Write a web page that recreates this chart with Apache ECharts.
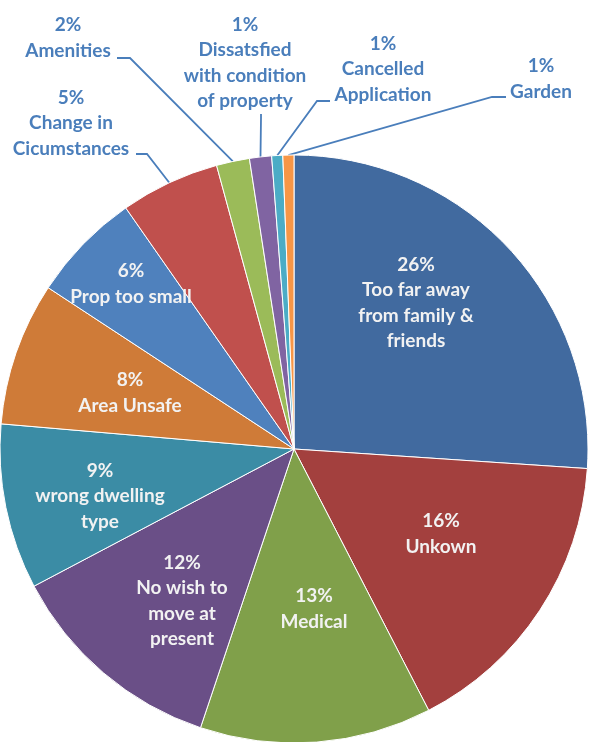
<!DOCTYPE html>
<html>
<head>
<meta charset="utf-8">
<script src="https://cdn.jsdelivr.net/npm/echarts@6/dist/echarts.min.js"></script>
<style>
    html, body { margin: 0; padding: 0; background: #fff; }
    #chart { width: 589px; height: 742px; }
</style>
</head>
<body>
<div id="chart"></div>
<script>
// 分类（标签里的换行照原图）
const categories = [
    'Too far away\nfrom family &\nfriends',
    'Unkown',
    'Medical',
    'No wish to\nmove at\npresent',
    'wrong dwelling\ntype',
    'Area Unsafe',
    'Prop too small',
    'Change in\nCicumstances',
    'Amenities',
    'Dissatsfied\nwith condition\nof property',
    'Cancelled\nApplication',
    'Garden'
];
// 回复数量
const counts = [43, 27, 21, 20, 15, 13, 10, 9, 3, 2, 1, 1];

const colors = ['#416a9f', '#a3403e', '#80a04a', '#6a4f87', '#3b8ca5', '#cf7b38',
    '#4f81bd', '#c0504d', '#9bbb59', '#8064a2', '#4bacc6', '#f79646'];

// 标签位置（仿 Excel 的 best fit）
const spots = {
    0: { x: 416, y: 303 },
    1: { x: 441, y: 534 },
    2: { x: 314, y: 609 },
    3: { x: 182, y: 601 },
    4: { x: 100, y: 496 },
    5: { x: 130, y: 393 },
    6: { x: 131, y: 284 },
    7: { x: 71, y: 123, bend: [147, 154], end: [136, 154] },
    8: { x: 68, y: 38, bend: [130, 58], end: [117, 58] },
    9: { x: 245, y: 63, bend: [261, 118], end: [261, 114] },
    10: { x: 383, y: 69, bend: [317, 101], end: [330, 101] },
    11: { x: 541, y: 79, bend: [492, 97], end: [506, 97] }
};

const total = counts.reduce((a, b) => a + b, 0);
const outside = [7, 8, 9, 10, 11];

let mycharts = echarts.init(document.getElementById('chart'));
mycharts.setOption({
    animation: false,
    color: colors,
    series: [
        {
            type: 'pie',
            center: [294, 449],
            radius: 294,
            startAngle: 90,
            clockwise: true,
            avoidLabelOverlap: false,
            itemStyle: {
                borderColor: '#fff',
                borderWidth: 1
            },
            label: {
                formatter: p => Math.round(p.value / total * 100) + '%\n' + p.name,
                fontFamily: 'Lato',
                fontWeight: 'bold',
                fontSize: 19,
                lineHeight: 25.5,
                align: 'center',
                overflow: 'none'
            },
            labelLine: {
                lineStyle: { color: '#4a7ebb', width: 1.8 }
            },
            labelLayout: function (p) {
                const s = spots[p.dataIndex];
                if (!s) return {};
                const out = { x: s.x, y: s.y, align: 'center', verticalAlign: 'middle' };
                if (s.bend && p.labelLinePoints) {
                    out.labelLinePoints = [p.labelLinePoints[0], s.bend, s.end];
                }
                return out;
            },
            data: categories.map((name, i) => {
                const isOut = outside.indexOf(i) >= 0;
                return {
                    name: name,
                    value: counts[i],
                    label: {
                        position: isOut ? 'outside' : 'inside',
                        color: isOut ? '#4a7ebb' : '#f2f2f2'
                    },
                    labelLine: { show: isOut }
                };
            })
        }
    ]
});
</script>
</body>
</html>
